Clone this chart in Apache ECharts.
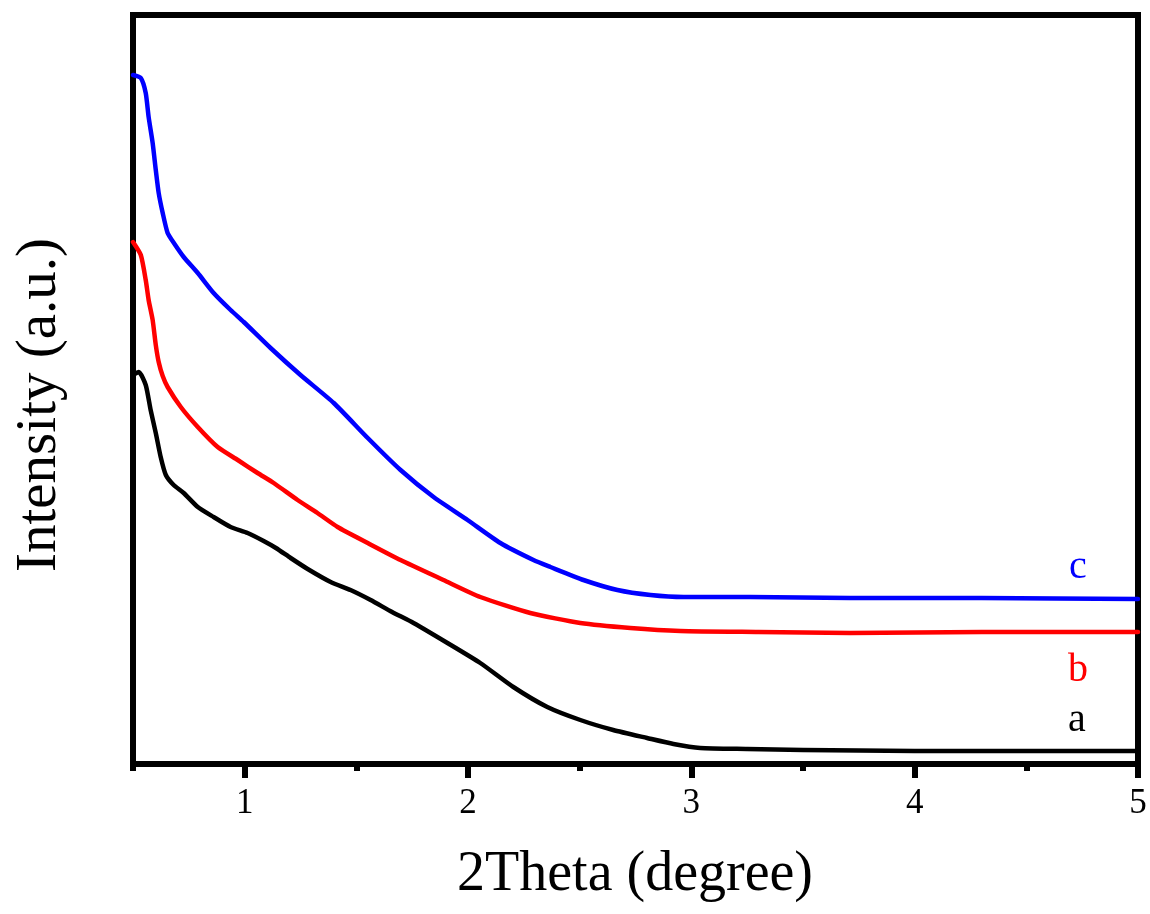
<!DOCTYPE html>
<html>
<head>
<meta charset="utf-8">
<script src="https://cdn.jsdelivr.net/npm/echarts@6/dist/echarts.min.js"></script>
<style>html,body{margin:0;padding:0;background:#fff}#chart{width:1150px;height:914px}</style>
</head>
<body>
<div id="chart"></div>
<script>
// 2Theta (degree), intensity (a.u.)
const seriesA = [
  [0.5,389],[0.526,392],[0.557,379],[0.579,354],[0.602,331],[0.624,307],[0.647,289],[0.682,279],[0.727,271],[0.79,257],
  [0.861,247],[0.937,237],[1.013,231],[1.085,223],[1.14,216],[1.206,206],[1.282,195],[1.385,182],[1.474,174],[1.564,164],
  [1.66,152],[1.756,141],[1.908,121],[2.055,101],[2.203,77],[2.355,57],[2.503,44],[2.65,34],[2.802,26],[2.92,20],
  [3.04,16],[3.25,15],[3.5,14],[4.0,13],[4.5,13],[5.0,13]
];
const seriesB = [
  [0.5,522],[0.535,509],[0.557,484],[0.57,464],[0.588,444],[0.602,419],[0.615,402],[0.633,388],[0.655,377],[0.714,357],
  [0.79,337],[0.879,317],[0.969,304],[1.058,291],[1.13,281],[1.237,264],[1.326,251],[1.416,237],[1.551,221],[1.698,204],
  [1.89,184],[2.055,167],[2.279,151],[2.503,141],[2.727,136],[2.951,133],[3.3,132],[3.711,131],[4.3,132],[5.0,132]
];
const seriesC = [
  [0.5,689],[0.535,686],[0.557,671],[0.57,647],[0.588,621],[0.602,594],[0.615,571],[0.633,551],[0.655,531],[0.683,521],
  [0.727,507],[0.79,491],[0.861,471],[0.937,454],[0.996,442],[1.116,416],[1.25,389],[1.399,361],[1.551,326],[1.698,294],
  [1.846,267],[1.998,244],[2.145,221],[2.293,204],[2.369,197],[2.517,184],[2.669,174],[2.817,169],[2.966,167],[3.264,167],
  [3.711,166],[4.3,166],[5.0,165]
];
const majorTicks = [1, 2, 3, 4, 5];
const minorTicks = [0.5, 1.5, 2.5, 3.5, 4.5];
const curveLabels = ['a', 'b', 'c'];
const curveColors = ['#000000', '#ff0000', '#0000ff'];

const chart = echarts.init(document.getElementById('chart'), null, {renderer: 'canvas'});
const FONT = '"Liberation Serif", "Times New Roman", serif';

function lineSeries(data, color) {
  return {
    type: 'line', data: data, xAxisIndex: 0, yAxisIndex: 0,
    showSymbol: false, smooth: 0.2,
    lineStyle: {color: color, width: 4.5, join: 'round', cap: 'round'}, silent: true, animation: false
  };
}

chart.setOption({
  backgroundColor: '#fff',
  animation: false,
  grid: {left: 133, right: 12, top: 15, bottom: 150, show: true, borderColor: '#000', borderWidth: 6, backgroundColor: 'transparent'},
  xAxis: [
    {
      type: 'value', min: 0.5, max: 5, position: 'bottom',
      axisLine: {show: true, lineStyle: {color: '#000', width: 6}},
      axisTick: {show: true, customValues: majorTicks, length: 14, lineStyle: {color: '#000', width: 6}},
      axisLabel: {show: true, customValues: majorTicks, margin: 22, fontFamily: FONT, fontSize: 35, color: '#000'},
      splitLine: {show: false}
    },
    {
      type: 'value', min: 0.5, max: 5, position: 'bottom',
      axisLine: {show: false},
      axisTick: {show: true, customValues: minorTicks, length: 7, lineStyle: {color: '#000', width: 6}},
      axisLabel: {show: false},
      splitLine: {show: false}
    }
  ],
  yAxis: {
    type: 'value', min: 0, max: 749,
    axisLine: {show: false}, axisTick: {show: false}, axisLabel: {show: false}, splitLine: {show: false}
  },
  series: [
    lineSeries(seriesA, curveColors[0]),
    lineSeries(seriesB, curveColors[1]),
    lineSeries(seriesC, curveColors[2])
  ],
  graphic: [
    {type: 'text', x: 635, y: 875, style: {text: '2Theta (degree)', font: '56px ' + FONT, fill: '#000', textAlign: 'center', textVerticalAlign: 'middle'}, z: 10},
    {type: 'text', x: 40, y: 405, rotation: Math.PI / 2, style: {text: 'Intensity (a.u.)', font: '57px ' + FONT, fill: '#000', textAlign: 'center', textVerticalAlign: 'middle'}, z: 10},
    {type: 'text', x: 1077, y: 720, style: {text: curveLabels[0], font: '40px ' + FONT, fill: curveColors[0], textAlign: 'center', textVerticalAlign: 'middle'}, z: 10},
    {type: 'text', x: 1078, y: 670, style: {text: curveLabels[1], font: '40px ' + FONT, fill: curveColors[1], textAlign: 'center', textVerticalAlign: 'middle'}, z: 10},
    {type: 'text', x: 1078, y: 567, style: {text: curveLabels[2], font: '40px ' + FONT, fill: curveColors[2], textAlign: 'center', textVerticalAlign: 'middle'}, z: 10}
  ]
});
</script>
</body>
</html>
